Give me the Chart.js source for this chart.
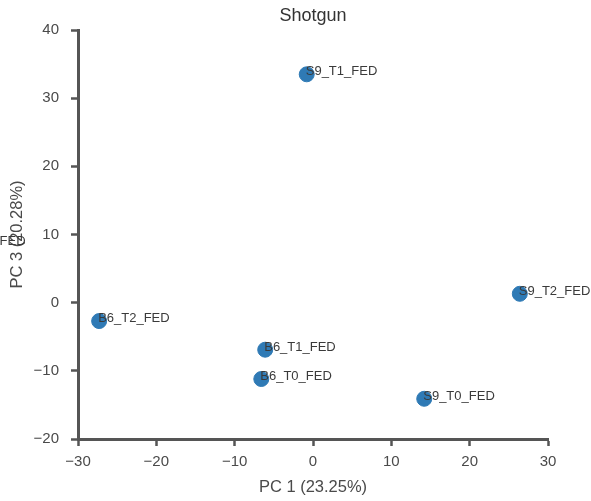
<!DOCTYPE html>
<html>
<head>
<meta charset="utf-8">
<script src="https://cdn.jsdelivr.net/npm/chart.js@4/dist/chart.umd.min.js"></script>
<style>
  html, body { margin: 0; padding: 0; background: #fff; }
</style>
</head>
<body>
<canvas id="pca" width="591" height="501"></canvas>
<script>
// sample names and PCA coordinates (PC 1 vs PC 3)
var sampleNames = ["S9_T1_FED", "S9_T2_FED", "B6_T2_FED", "B6_T1_FED", "B6_T0_FED", "S9_T0_FED", "B6_T3_FED"];
var pc1 = [-0.8, 26.4, -27.3, -6.1, -6.6, 14.2, -45.7];
var pc3 = [33.5, 1.3, -2.7, -6.9, -11.2, -14.1, 8.6];

var axisColor = "#555555";
var textColor = "#4a4a4a";
var fontFamily = "'Liberation Sans', Arial, sans-serif";

var points = pc1.map(function (x, i) {
    return { x: x, y: pc3[i], label: sampleNames[i] };
});

// writes the sample name next to each point (not clipped, like matplotlib text)
var pointLabels = {
    id: "pointLabels",
    afterDatasetsDraw: function (chart) {
        var ctx = chart.ctx;
        var xs = chart.scales.x;
        var ys = chart.scales.y;
        ctx.save();
        ctx.font = "13px " + fontFamily;
        ctx.fillStyle = "#3a3a3a";
        ctx.textAlign = "left";
        ctx.textBaseline = "alphabetic";
        points.forEach(function (p) {
            var px = xs.getPixelForValue(p.x);
            var py = ys.getPixelForValue(p.y);
            ctx.fillText(p.label, px - 1, py + 1);
        });
        ctx.restore();
    }
};

var chartTitle = {
    id: "chartTitle",
    afterDraw: function (chart) {
        var ctx = chart.ctx;
        ctx.save();
        ctx.font = "18px " + fontFamily;
        ctx.fillStyle = "#333333";
        ctx.textAlign = "center";
        ctx.textBaseline = "middle";
        ctx.fillText("Shotgun", (chart.chartArea.left + chart.chartArea.right) / 2, 16);
        ctx.restore();
    }
};

new Chart(document.getElementById("pca").getContext("2d"), {
    type: "scatter",
    data: {
        datasets: [
            {
                data: points,
                backgroundColor: "#2f7ab5",
                borderColor: "#2f7ab5",
                pointRadius: 7.5,
                pointHoverRadius: 7.5,
            },
        ],
    },
    options: {
        responsive: false,
        animation: false,
        devicePixelRatio: 1,
        layout: { padding: { left: 0, right: 43, top: 30, bottom: 0 } },
        plugins: {
            legend: { display: false },
            tooltip: { enabled: false },
        },
        scales: {
            x: {
                type: "linear",
                min: -30,
                max: 30,
                afterFit: function (scale) { scale.height = 62; },
                ticks: {
                    stepSize: 10,
                    color: textColor,
                    font: { family: fontFamily, size: 15 },
                    padding: 7,
                    callback: function (v) { return String(v).replace("-", "\u2212"); },
                },
                grid: { drawOnChartArea: false, drawTicks: true, tickLength: 7, tickWidth: 2.5, tickColor: axisColor },
                border: { display: true, color: axisColor, width: 3 },
                title: {
                    display: true,
                    text: "PC 1 (23.25%)",
                    color: textColor,
                    font: { family: fontFamily, size: 16.5 },
                    padding: { top: 0, bottom: 4 },
                },
            },
            y: {
                type: "linear",
                min: -20,
                max: 40,
                afterFit: function (scale) { scale.width = 78; },
                ticks: {
                    stepSize: 10,
                    color: textColor,
                    font: { family: fontFamily, size: 15 },
                    padding: 12,
                    callback: function (v) { return String(v).replace("-", "\u2212"); },
                },
                grid: { drawOnChartArea: false, drawTicks: true, tickLength: 7, tickWidth: 2.5, tickColor: axisColor },
                border: { display: true, color: axisColor, width: 3 },
                title: {
                    display: true,
                    text: "PC 3 (20.28%)",
                    color: textColor,
                    font: { family: fontFamily, size: 16.5 },
                    padding: { top: 8, bottom: 0 },
                },
            },
        },
    },
    plugins: [pointLabels, chartTitle],
});
</script>
</body>
</html>
